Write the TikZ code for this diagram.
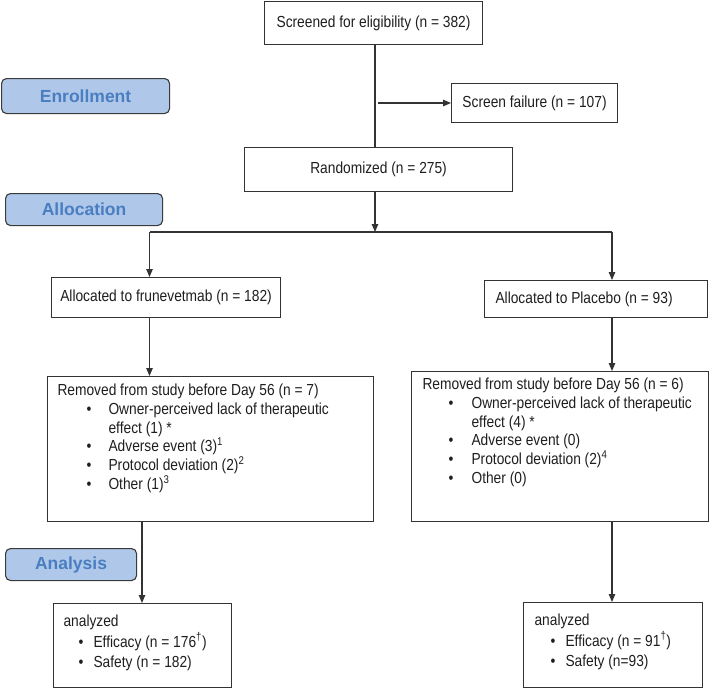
\documentclass[tikz,border=0pt]{standalone}
\usepackage{fontspec}
\setmainfont{Liberation Sans}
\newfontfamily\narrowf[FakeStretch=0.86]{Liberation Sans}
\usetikzlibrary{arrows.meta,calc}
\definecolor{lnc}{HTML}{333333}
\definecolor{txt}{HTML}{1E1E1E}
\definecolor{phasefill}{HTML}{AFC8EA}
\definecolor{phasetext}{HTML}{4A7EC0}
\definecolor{phaseline}{HTML}{3A3A3A}
\newcommand\bitem[1]{\par\leavevmode\llap{\textbullet\hspace{#1}}}
\begin{document}
\begin{tikzpicture}[x=1pt,y=-1pt,
 box/.style={draw=lnc, line width=1.1pt, inner sep=0pt, anchor=north west, text=txt,
   font=\narrowf\fontsize{16}{18.8}\selectfont},
 phase/.style={draw=phaseline, fill=phasefill, rounded corners=5pt, line width=1.1pt,
   anchor=north west, inner sep=0pt, text=phasetext,
   font=\bfseries\fontsize{17.5}{20}\selectfont},
 conn/.style={draw=lnc, line width=1.1pt},
 arr/.style={conn, -{Triangle[length=8pt,width=6.5pt]}}]
\useasboundingbox (0,0) rectangle (709,688);

% phase labels
\node[phase, minimum width=168pt, minimum height=35pt] (enr) at (1,78) {Enrollment};
\node[phase, minimum width=157pt, minimum height=32pt] (alc) at (5,193) {Allocation};
\node[phase, minimum width=131pt, minimum height=32pt] (ana) at (5,548) {Analysis};

% boxes
\node[box, minimum width=218pt, minimum height=43pt] (scr) at (264,1) {Screened for eligibility (n = 382)};
\node[box, minimum width=166pt, minimum height=39pt] (sf) at (451,83) {Screen failure (n = 107)};
\node[box, minimum width=268pt, minimum height=44pt] (rand) at (244,147) {Randomized (n = 275)};
\node[box, minimum width=229pt, minimum height=40pt] (allocL) at (51,277) {Allocated to frunevetmab (n = 182)};
\node[box] (allocR) at (484,280) {\parbox[c][37pt][c]{223pt}{\raggedright\leftskip=11pt Allocated to Placebo (n = 93)}};

\node[box] (remL) at (47,376) {\parbox[t][145pt][t]{326pt}{\raggedright\leftskip=10pt
  \rule{0pt}{19pt}Removed from study before Day 56 (n = 7)\par
  \leftskip=61pt
  \bitem{17pt}Owner-perceived lack of therapeutic\newline effect (1) *
  \bitem{17pt}Adverse event (3)\textsuperscript{1}
  \bitem{17pt}Protocol deviation (2)\textsuperscript{2}
  \bitem{17pt}Other (1)\textsuperscript{3}\par}};

\node[box] (remR) at (411,371) {\parbox[t][150pt][t]{297pt}{\raggedright\leftskip=11pt
  \rule{0pt}{18pt}Removed from study before Day 56 (n = 6)\par
  \leftskip=60pt
  \bitem{18pt}Owner-perceived lack of therapeutic\newline effect (4) *
  \bitem{18pt}Adverse event (0)
  \bitem{18pt}Protocol deviation (2)\textsuperscript{4}
  \bitem{18pt}Other (0)\par}};

\node[box] (anaL) at (53,603) {\parbox[t][84pt][t]{178pt}{\raggedright\baselineskip=20.5pt\leftskip=10pt
  \rule{0pt}{23pt}analyzed\par
  \leftskip=40pt
  \bitem{10pt}Efficacy (n = 176\textsuperscript{†})
  \bitem{10pt}Safety (n = 182)\par}};

\node[box] (anaR) at (523,602) {\parbox[t][85pt][t]{179pt}{\raggedright\baselineskip=20.5pt\leftskip=11pt
  \rule{0pt}{23pt}analyzed\par
  \leftskip=42pt
  \bitem{10pt}Efficacy (n = 91\textsuperscript{†})
  \bitem{10pt}Safety (n=93)\par}};

% helper coordinates
\coordinate (cx) at (375,0);
\coordinate (lx) at (149.5,0);
\coordinate (lx2) at (142,0);
\coordinate (rx) at (612,0);
\coordinate (sfsrc) at (378,103);
\coordinate (split) at (375,232);
\coordinate (splitL) at (149.5,232);
\coordinate (splitR) at (612,232);
\coordinate (barL) at (358,232);
\coordinate (barR) at (402,232);

% connectors
\draw[conn] (scr.south -| cx) -- (rand.north -| cx);
\draw[arr] (sfsrc) -- (sfsrc -| sf.west);
\draw[arr] (rand.south -| cx) -- (split);
\draw[draw=lnc, line width=2.2pt] (barL) -- (barR);
\draw[conn] (splitL) -- (splitR);
\draw[arr] (splitL) -- (allocL.north -| splitL);
\draw[arr] (splitR) -- (allocR.north -| splitR);
\draw[arr] (allocL.south -| lx) -- (remL.north -| lx);
\draw[arr] (allocR.south -| rx) -- (remR.north -| rx);
\draw[arr] (remL.south -| lx2) -- (anaL.north -| lx2);
\draw[arr] (remR.south -| rx) -- (anaR.north -| rx);
\end{tikzpicture}
\end{document}
